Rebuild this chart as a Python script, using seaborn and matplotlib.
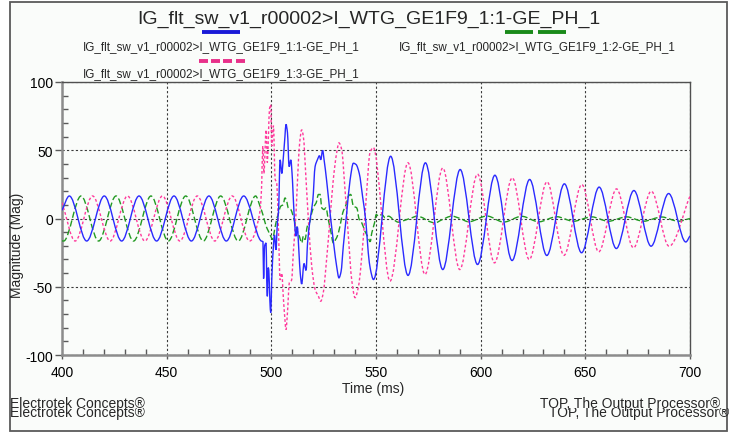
import numpy as np
import matplotlib
matplotlib.use("Agg")
import matplotlib.pyplot as plt
import seaborn as sns
from matplotlib.path import Path
from matplotlib.patches import PathPatch, Rectangle
from matplotlib.lines import Line2D
from matplotlib.ticker import MultipleLocator
from matplotlib.transforms import Bbox, TransformedBbox

# ---------------- data ----------------
title = "IG_flt_sw_v1_r00002>I_WTG_GE1F9_1:1-GE_PH_1"
series_labels = [
    "IG_flt_sw_v1_r00002>I_WTG_GE1F9_1:1-GE_PH_1",
    "IG_flt_sw_v1_r00002>I_WTG_GE1F9_1:2-GE_PH_1",
    "IG_flt_sw_v1_r00002>I_WTG_GE1F9_1:3-GE_PH_1",
]
x_ticks = [400, 450, 500, 550, 600, 650, 700]
y_ticks = [-100, -50, 0, 50, 100]
x_label = "Time (ms)"
y_label = "Magnitude (Mag)"
footer_left = "Electrotek Concepts®"
footer_right = "TOP, The Output Processor®"

# phase 1 (blue): key points (extrema + fault transients), time in ms
ph1_time = [400.0, 403.5, 411.8, 420.2, 428.5, 436.8, 445.2, 453.5, 461.8, 470.2, 478.5, 486.8, 495.2,
            496.0, 496.3, 496.8, 497.5, 497.8, 498.1, 498.5, 498.8, 499.3, 499.7, 500.2, 501.0, 501.5,
            502.2, 502.9, 503.4, 504.2, 505.0, 505.7, 506.5, 507.0, 507.7, 508.5, 509.3, 510.1, 511.0,
            511.8, 512.4, 513.2, 513.8, 514.5, 515.6, 516.6, 517.3, 518.5, 519.8, 520.9, 522.0, 523.0,
            523.6, 524.5, 525.2, 526.4, 527.7, 528.8, 529.9, 531.2, 532.3, 533.3, 534.4, 536.0, 537.6,
            539.2, 540.5, 542.0, 543.6, 545.2, 546.3, 547.3,
            548.8, 557.0, 565.3, 573.6, 581.9, 590.2, 598.5, 606.8, 615.0, 623.4, 631.6, 640.0, 648.2,
            656.6, 664.8, 673.2, 681.4, 689.8, 698.0, 700.0]
ph1_mag = [6.0, 16.5, -16.5, 16.5, -16.5, 16.5, -16.5, 16.5, -16.5, 16.5, -16.5, 16.5, -16.5,
           -17.0, -44.0, -20.0, -18.0, -45.0, -57.0, -36.0, -38.0, -60.0, -69.0, -45.0, -20.0, -12.0,
           -23.0, -3.0, 4.0, 43.0, 33.0, 44.0, 60.0, 69.0, 63.0, 38.0, 43.0, 28.0, -1.0,
           -13.0, -6.0, -25.0, -40.0, -48.0, -33.0, -38.0, -18.0, -1.0, 13.0, 38.0, 43.0, 46.0,
           43.0, 50.0, 43.0, 28.0, 9.0, -6.0, -20.0, -35.0, -43.5, -39.0, -20.0, 4.0, 28.0,
           40.5, 39.5, 33.0, 16.0, -3.0, -25.0, -37.0,
           -44.7, 45.6, -41.7, 40.8, -37.4, 35.9, -33.7, 31.7, -30.8, 28.6, -27.1, 25.4, -25.1,
           23.0, -22.0, 20.5, -20.3, 18.3, -17.2, -12.7]

# phase 2 (green)
ph2_time = [400.0, 400.8, 409.1, 417.5, 425.8, 434.2, 442.5, 450.8, 459.1, 467.5, 475.8, 484.2, 492.5,
            494.6, 496.2, 497.5, 498.6, 499.7, 500.7, 501.3, 502.2, 503.4, 504.5, 505.7, 506.5, 507.3,
            508.1, 509.3, 510.2, 511.3, 512.4, 513.4, 514.5, 515.3, 516.1, 517.2, 518.2, 519.3, 520.4,
            521.4, 522.5, 523.3, 524.1, 525.2, 526.1, 527.2, 528.4, 529.6, 530.7, 531.5, 532.8, 534.1,
            535.7, 536.8, 537.9, 539.2, 540.8, 542.0, 543.2, 544.7, 546.3, 547.2, 548.0, 549.3, 550.1,
            551.2, 552.8, 554.4, 556.0, 558.3, 560.7, 563.9, 567.1, 569.5, 571.9, 575.0, 578.2, 581.4,
            586.2, 590.2,
            594.2, 603.0, 611.0, 619.6, 627.8, 636.3, 644.3, 653.0, 661.0, 669.7, 677.7, 686.5, 694.4, 700.0]
ph2_mag = [-16.4, -16.5, 16.5, -16.5, 16.5, -16.5, 16.5, -16.5, 16.5, -16.5, 16.5, -16.5, 16.5,
           9.0, 1.7, -5.6, -9.3, -13.0, -15.4, -10.5, -3.2, 4.1, 9.0, 10.2, 15.1, 12.7,
           7.8, 6.6, 2.9, -3.2, -9.3, -13.0, -17.9, -13.0, -15.4, -5.6, -3.2, 4.1, 9.0,
           11.4, 17.6, 17.6, 7.8, 6.6, 7.8, -0.8, -9.3, -17.9, -15.4, -13.0, -5.6, 4.1,
           10.2, 16.3, 17.6, 9.0, 7.8, -0.8, -3.2, -9.3, -14.0, -17.0, -10.5, -3.2, 2.9,
           1.7, 2.9, 0.5, 1.7, -0.7, -2.7, -1.2, 0.5, 1.7, 0.8, -1.9, -3.2, -1.0,
           1.7, 0.0,
           -2.4, 1.8, -2.6, 1.6, -2.4, 1.3, -2.0, 1.2, -2.0, 1.2, -2.0, 1.1, -2.0, 0.0]

# phase 3 (pink)
ph3_time = [400.0, 406.3, 414.6, 423.0, 431.3, 439.6, 448.0, 456.3, 464.6, 473.0, 481.3, 489.6,
            494.6, 495.4, 495.9, 496.5, 497.0, 497.5, 498.1, 498.6, 499.1, 499.7, 500.2, 500.6, 501.0,
            501.8, 502.6, 503.4, 504.2, 505.0, 505.7, 506.5, 507.0, 507.7, 508.6, 509.7, 510.5, 511.8,
            512.9, 513.7, 514.5, 515.3, 516.6, 517.7, 519.3, 520.9, 522.5, 523.6, 524.8, 526.4, 528.0,
            529.6, 531.2, 532.3, 533.6, 535.2, 536.8, 538.4, 540.0, 541.6, 544.0, 545.6, 547.1,
            548.7, 556.7, 565.3, 573.4, 581.9, 590.0, 598.5, 606.6, 615.1, 623.2, 631.7, 639.8, 648.3,
            656.4, 664.9, 673.0, 681.5, 690.0, 700.0]
ph3_mag = [11.7, -16.5, 16.5, -16.5, 16.5, -16.5, 16.5, -16.5, 16.5, -16.5, 16.5, -16.5,
           5.5, 25.0, 53.0, 33.0, 50.0, 65.0, 41.0, 60.0, 80.0, 83.5, 53.0, 62.0, 68.0,
           29.0, 26.0, -8.0, -45.0, -40.0, -57.0, -74.0, -81.4, -69.0, -47.0, -45.0, -25.0, 4.0,
           41.0, 58.0, 65.0, 60.0, 28.0, -1.0, -35.0, -52.0, -57.0, -60.6, -54.5, -30.0, -1.0,
           28.5, 48.0, 55.4, 50.5, 21.0, -13.0, -45.0, -58.0, -50.0, -13.0, 21.0, 48.0,
           52.0, -45.9, 40.8, -41.0, 37.0, -37.4, 32.5, -32.5, 29.8, -30.0, 26.9, -27.0, 24.9,
           -24.4, 21.7, -21.5, 20.0, -20.3, 16.5]

for tt, vv in ((ph1_time, ph1_mag), (ph2_time, ph2_mag), (ph3_time, ph3_mag)):
    assert len(tt) == len(vv), (len(tt), len(vv))
    assert all(b > a for a, b in zip(tt, tt[1:]))

# ---------------- style ----------------
sns.set_theme(style="white")
plt.rcParams["font.family"] = ["Liberation Sans", "DejaVu Sans"]

W, H = 736, 435
BG = "#fafcfa"
BLUE, GREEN, PINK = "#2a2aff", "#229a22", "#ff3a9c"


def fx(px):
    return px / W


def fy(py):
    return 1 - py / H


def smooth_path(t, v):
    """Monotone cubic Hermite curve through the key points, as Bezier path."""
    t = np.asarray(t, float)
    v = np.asarray(v, float)
    h = np.diff(t)
    s = np.diff(v) / h
    d = np.zeros_like(v)
    for k in range(1, len(v) - 1):
        if s[k - 1] * s[k] > 0:
            w1 = 2 * h[k] + h[k - 1]
            w2 = h[k] + 2 * h[k - 1]
            d[k] = (w1 + w2) / (w1 / s[k - 1] + w2 / s[k])
    d[0] = s[0]
    d[-1] = s[-1]
    verts = [(t[0], v[0])]
    codes = [Path.MOVETO]
    for k in range(len(h)):
        verts += [(t[k] + h[k] / 3, v[k] + d[k] * h[k] / 3),
                  (t[k + 1] - h[k] / 3, v[k + 1] - d[k + 1] * h[k] / 3),
                  (t[k + 1], v[k + 1])]
        codes += [Path.CURVE4] * 3
    return Path(verts, codes)


fig = plt.figure(figsize=(W / 100, H / 100), dpi=100)
fig.patch.set_facecolor("white")

frame = Rectangle((fx(10), fy(432)), fx(727) - fx(10), fy(3) - fy(432),
                  transform=fig.transFigure, facecolor=BG, edgecolor="#5a5a5a",
                  linewidth=1.3, zorder=0)
fig.add_artist(frame)

ax = fig.add_axes([fx(62), fy(356), fx(690) - fx(62), fy(83) - fy(356)])
ax.set_facecolor(BG)
ax.set_xlim(400, 700)
ax.set_ylim(-100, 100)

# series
ax.add_patch(PathPatch(smooth_path(ph2_time, ph2_mag), fill=False, edgecolor=GREEN,
                       linewidth=1.0, linestyle=(0, (4.5, 2.0)), zorder=3))
ax.add_patch(PathPatch(smooth_path(ph3_time, ph3_mag), fill=False, edgecolor=PINK,
                       linewidth=1.0, linestyle=(0, (2.0, 1.6)), zorder=4))
ax.add_patch(PathPatch(smooth_path(ph1_time, ph1_mag), fill=False, edgecolor=BLUE,
                       linewidth=1.0, linestyle="-", zorder=5))

# axes cosmetics
ax.set_xticks(x_ticks)
ax.set_yticks(y_ticks)
ax.set_xticklabels([str(v) for v in x_ticks])
ax.set_yticklabels([str(v) for v in y_ticks])
ax.xaxis.set_minor_locator(MultipleLocator(10))
ax.yaxis.set_minor_locator(MultipleLocator(10))
ax.tick_params(which="major", direction="out", length=5, width=1.0, color="#5a5a5a",
               labelsize=10, labelcolor="black")
ax.tick_params(axis="y", which="major", pad=1.5)
ax.tick_params(axis="x", which="major", length=3, pad=4.5)
ax.tick_params(which="minor", direction="in", length=4.5, width=1.0, color="#5a5a5a")
ax.tick_params(left=True, bottom=True, which="both")
ax.grid(True, which="major", color="#3a3a3a", linestyle=(0, (2, 2)), linewidth=0.8)
ax.set_axisbelow(True)
for side in ("left", "bottom"):
    ax.spines[side].set_color("#8c8c8c")
    ax.spines[side].set_linewidth(1.8)
for side in ("top", "right"):
    ax.spines[side].set_color("#505050")
    ax.spines[side].set_linewidth(1.0)

# title and legend
fig.text(fx(369), fy(24), title, ha="center", va="baseline", fontsize=14)

fig.add_artist(Line2D([fx(202), fx(240)], [fy(33), fy(33)], transform=fig.transFigure,
                      color="#1a1ad8", linewidth=2.8, solid_capstyle="butt"))
for x0, x1 in ((505, 533), (538, 566)):
    fig.add_artist(Line2D([fx(x0), fx(x1)], [fy(33), fy(33)], transform=fig.transFigure,
                          color="#198a19", linewidth=2.8, solid_capstyle="butt"))
for x0, x1 in ((199, 208), (211, 220), (223, 232), (236, 245)):
    fig.add_artist(Line2D([fx(x0), fx(x1)], [fy(62), fy(62)], transform=fig.transFigure,
                          color="#e8308a", linewidth=2.8, solid_capstyle="butt"))
fig.text(fx(83), fy(50), series_labels[0], ha="left", va="baseline", fontsize=8.4)
fig.text(fx(399), fy(50), series_labels[1], ha="left", va="baseline", fontsize=8.4)
fig.text(fx(83), fy(77), series_labels[2], ha="left", va="baseline", fontsize=8.4)

# axis labels
fig.text(fx(373), fy(389), x_label, ha="center", va="center", fontsize=10)
fig.text(fx(17), fy(245), y_label, ha="center", va="center", rotation=90, fontsize=10)

# footer (drawn twice, the second copy partly hidden)
clip = TransformedBbox(Bbox([[0, 0], [1, fy(409)]]), fig.transFigure)
fig.text(fx(10), fy(408), footer_left, ha="left", va="baseline", fontsize=10)
t2 = fig.text(fx(10), fy(417), footer_left, ha="left", va="baseline", fontsize=10)
t2.set_clip_box(clip)
t2.set_clip_on(True)
fig.text(fx(720), fy(408), footer_right, ha="right", va="baseline", fontsize=10)
t4 = fig.text(fx(729), fy(417), footer_right, ha="right", va="baseline", fontsize=10)
t4.set_clip_box(clip)
t4.set_clip_on(True)

fig.savefig("out.png", dpi=100, facecolor=fig.get_facecolor())
